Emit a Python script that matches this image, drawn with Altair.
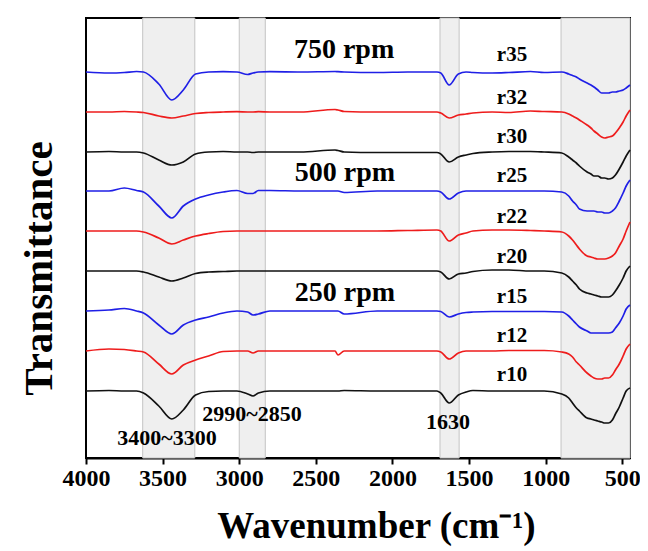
import altair as alt
import pandas as pd

# ---- data ----
wavenumber = [4000, 3850, 3750, 3670, 3625, 3525, 3440, 3365, 3285, 3200, 3105, 3015,
              2945, 2910, 2875, 2800, 2600, 2375, 2356, 2315, 2100, 1900, 1710, 1685,
              1630, 1570, 1520, 1475, 1350, 1240, 1100, 1010, 895, 850, 825, 800, 780,
              730, 705, 685, 660, 635, 615, 590, 565, 545, 520, 495, 475, 450]

names = ["r10", "r12", "r15", "r20", "r22", "r25", "r30", "r32", "r35"]
offsets = [67, 107, 147, 187, 227, 267, 306, 346, 386]
colors = ["#111111", "#ee1c1c", "#1f1fe6"] * 3

r10 = [0, 0.5, 0, 0, -2, -15, -28, -19, -4, -0.5, 0, 0, -3, -5, -2, 0, 0, 0, 0, 0.5,
       0, 0, 0, -2, -12, -4, -1, 0.5, 0, 0, 0, 0, -3, -7, -12, -17, -20, -27, -28, -29,
       -30, -31, -32, -32, -29, -23, -16, -7, 0, 3]
r12 = [0, 2, 1.5, 0, -1, -13, -23, -14, -9, -5, -0.5, 0, 0, -2, 0, 0, 0, 0, -4, 0,
       0, 0, 0, -1, -8, -2, 0, 0, 0, 0.5, 0.5, 0.5, -1, -3, -6, -11, -14, -22, -25, -27,
       -28, -28, -27, -27, -24, -19, -13, -5, 2, 7]
r15 = [0, 1, 2.5, 0, -2, -14, -23, -14, -9, -6, -2, 0, -1, -4, -3, 0, 0, 0, 0, -3,
       0, 0, 0, -0.5, -6, -3, -1.5, -1, -0.5, -0.5, -0.5, -0.5, -1, -5, -9, -13, -16, -20, -22, -22,
       -22, -22, -22, -22, -21, -17, -12, -5, 2, 6]
r20 = [0, 0, 0, 0, -1, -6, -10, -7, -2.5, -1, -0.5, 0, 0, 0, 0, 0, 0, 0, 0, 0,
       0, 0, 0, -1, -8, -3, -2, -0.5, 1, 1, 0, 0, -2, -6, -10, -14, -18, -22, -23, -24,
       -25, -26, -26, -26, -24, -20, -14, -7, 0, 5]
r22 = [0, 0, 0, 0, -1, -7, -13, -9, -5, -2.5, -0.5, 0, 0, 0, 0, 0, 0, 0, 0, 0,
       0, 0.5, 1, 0, -10, -4, -2, 0, 1, 1, 0.5, 0, -1, -5, -9, -14, -18, -25, -26, -27,
       -28, -28, -28, -27, -25, -22, -15, -8, 0, 9]
r25 = [0, 0, 3, 0.5, -1, -15, -27, -15, -8, -4, -1, 0.5, -2.5, -2.5, 0.5, 0.5, 0, 0, 0, -1.5,
       0, 0, 0, -1, -8, -2, 0, 0, 0, 0, 0, 0, -1, -5, -10, -14, -18, -20, -20, -20,
       -21, -21, -22, -22, -20, -17, -10, -2, 5, 11]
r30 = [0, 0.5, 0, 0, -1, -8, -13, -10, -2, 0, 0.5, 0, 0, -0.5, 0, 0, 0, 2, 1.5, 0,
       -0.5, -0.5, -0.5, -2, -10, -5, -3, -1.5, 0, 0.5, 0.5, 0, -1, -5, -8, -11, -14, -20, -22, -24,
       -24, -26, -26, -27, -26, -23, -17, -10, -4, 2]
r32 = [0, 0, 0.5, 0, -0.5, -4, -6, -4, -1.5, -0.5, 0, 0.3, 0, 0, 0.3, 0, 0, 2.5, 2, 0.5,
       0, 0, 0, -1, -6, -3, -2, -1, 0, -0.5, 1, 0.5, 0, -2, -4, -6, -8, -13, -16, -19,
       -22, -25, -26, -25, -24, -21, -16, -10, -4, 2]
r35 = [0, -1, -0.5, 0.5, 0, -12, -28, -18, -2, 0, 0.3, 0, -2.5, -1, 0, 0.3, 0, 0.5, 0.3, 0,
       -0.5, 0, 0, -1, -13, -2, 0, -0.5, -1, -0.5, 0.5, -0.5, 0, -2, -3.5, -5, -7, -11, -13, -15,
       -18, -21, -21, -21, -20, -20, -19, -18, -16, -13]
profiles = [r10, r12, r15, r20, r22, r25, r30, r32, r35]

band_start = [3630, 3000, 1690, 900]
band_end = [3290, 2830, 1565, 450]

rpm_text = ["750 rpm", "500 rpm", "250 rpm"]
rpm_w = [2316, 2310, 2310]
rpm_v = [408, 285, 165]

label_w = 1220
label_v = [83, 122, 161, 201, 241, 282, 321, 360, 403]

peak_text = ["3400~3300", "2990~2850", "1630"]
peak_w = [3471, 2917, 1638]
peak_v = [20, 44, 36]

# ---- tables ----
rows = []
for n, off, prof in zip(names, offsets, profiles):
    for i, (w, p) in enumerate(zip(wavenumber, prof)):
        rows.append({"sample": n, "w": w, "T": off + p, "order": i})
spec = pd.DataFrame(rows)
bands = pd.DataFrame({"start": band_start, "end": band_end})
rpm = pd.DataFrame({"text": rpm_text, "w": rpm_w, "v": rpm_v})
labels = pd.DataFrame({"text": names, "w": [label_w] * len(names), "v": label_v})
peaks = pd.DataFrame({"text": peak_text, "w": peak_w, "v": peak_v})

FONT = "Liberation Serif"
xscale = alt.Scale(domain=[4000, 450], nice=False, zero=False)
yscale = alt.Scale(domain=[0, 440], nice=False, zero=False)

xaxis = alt.Axis(
    values=list(range(4000, 450, -250)), format="d",
    labelExpr="datum.value % 500 == 0 ? datum.label : ''",
    title="Wavenumber (cm\u207b\u00b9)", titleFont=FONT, titleFontSize=37,
    titleFontWeight="bold", titleColor="black", titleX=290, titleY=79,
    titleBaseline="alphabetic",
    labelFont=FONT, labelFontSize=24, labelFontWeight="bold", labelColor="black",
    labelPadding=2, labelOverlap=False, labelFlush=False,
    tickSize=6, tickWidth=2, tickColor="black", domainColor="black", domainWidth=2,
    grid=False,
)
yaxis = alt.Axis(
    title="Transmittance", titleFont=FONT, titleFontSize=41, titleFontWeight="bold",
    titleColor="black", labels=False, ticks=False, domain=False, grid=False,
    titleX=-47, titleY=250, titleAngle=270, titleAlign="center", titleBaseline="middle",
)

band_layer = alt.Chart(bands).mark_rect(
    fill="#efefef", stroke="#c4c4c4", strokeWidth=1
).encode(
    x=alt.X("start:Q", scale=xscale, axis=xaxis),
    x2="end:Q",
)

line_layer = alt.Chart(spec).mark_line(strokeWidth=1.7, interpolate="monotone").encode(
    x=alt.X("w:Q", scale=xscale, axis=xaxis),
    y=alt.Y("T:Q", scale=yscale, axis=yaxis),
    color=alt.Color("sample:N", scale=alt.Scale(domain=names, range=colors), legend=None),
    detail="sample:N",
    order="order:Q",
)

rpm_layer = alt.Chart(rpm).mark_text(
    font=FONT, fontSize=28, fontWeight="bold", color="black", baseline="middle"
).encode(x=alt.X("w:Q", scale=xscale), y=alt.Y("v:Q", scale=yscale), text="text:N")

label_layer = alt.Chart(labels).mark_text(
    font=FONT, fontSize=21, fontWeight="bold", color="black", baseline="middle"
).encode(x=alt.X("w:Q", scale=xscale), y=alt.Y("v:Q", scale=yscale), text="text:N")

peak_layer = alt.Chart(peaks).mark_text(
    font=FONT, fontSize=22, fontWeight="bold", color="black", baseline="middle"
).encode(x=alt.X("w:Q", scale=xscale), y=alt.Y("v:Q", scale=yscale), text="text:N")

chart = alt.layer(band_layer, line_layer, rpm_layer, label_layer, peak_layer).properties(
    width=544, height=440,
    autosize=alt.AutoSizeParams(type="none"),
    padding={"left": 78, "top": 10, "right": 10, "bottom": 100},
).configure(background="white").configure_view(stroke="black", strokeWidth=2)

chart.save("out.html", embed_options={"renderer": "svg", "actions": False})
